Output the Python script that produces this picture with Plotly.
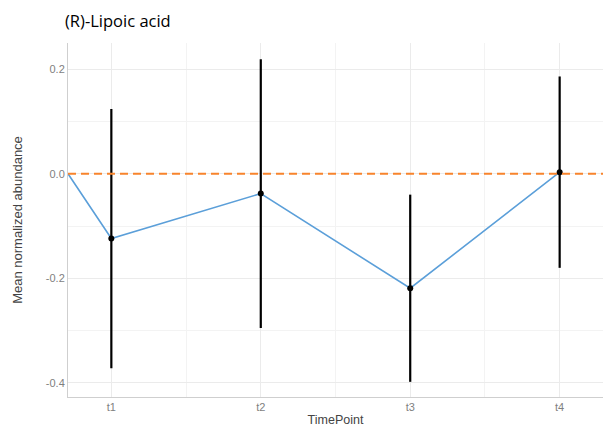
import plotly.graph_objects as go

categories = ["t1", "t2", "t3", "t4"]
means = [-0.124, -0.038, -0.219, 0.003]
errors = [0.248, 0.257, 0.179, 0.183]
baseline_value = 0.0

xpos = [1, 2, 3, 4]
x_range = [0.71, 4.29]
y_range = [-0.427, 0.25]

fig = go.Figure()

# blue line including baseline start at left edge
fig.add_trace(go.Scatter(
    x=[x_range[0]] + xpos, y=[baseline_value] + means,
    mode="lines", line=dict(color="#5b9fd9", width=1.6),
    hoverinfo="skip", showlegend=False, cliponaxis=False))

# orange dashed zero line
fig.add_hline(y=0, line=dict(color="#f8842c", width=1.9, dash="8px,5px"))

# error bars + points
fig.add_trace(go.Scatter(
    x=xpos, y=means, mode="markers",
    marker=dict(color="black", size=6),
    error_y=dict(type="data", array=errors, color="black", thickness=2.2, width=0),
    showlegend=False))

fig.update_layout(
    width=603, height=427,
    margin=dict(l=68, r=0, t=43, b=30),
    paper_bgcolor="white", plot_bgcolor="white",
    title=dict(text="(R)-Lipoic acid", x=65/603, xanchor="left", y=1 - 21/427, yanchor="middle",
               font=dict(family="Open Sans", size=16.5, color="black")),
    font=dict(family="Liberation Sans"),
)
fig.update_xaxes(
    range=x_range, tickvals=xpos, ticktext=categories, tickfont=dict(size=11, color="#7f7f7f"),
    showgrid=True, gridcolor="#ebebeb", gridwidth=1,
    minor=dict(tickvals=[1.5, 2.5, 3.5], showgrid=True, gridcolor="#f3f3f3", gridwidth=1),
    showline=True, linecolor="#cfcfcf", linewidth=1, zeroline=False, ticks="", ticklen=0,
    title=dict(text="TimePoint", font=dict(size=12.5, color="#444444"), standoff=3),
)
fig.update_yaxes(
    range=y_range, tickvals=[-0.4, -0.2, 0.0, 0.2], ticktext=["-0.4", "-0.2", "0.0", "0.2"],
    tickfont=dict(size=11, color="#7f7f7f"),
    showgrid=True, gridcolor="#ebebeb", gridwidth=1,
    minor=dict(tickvals=[-0.3, -0.1, 0.1], showgrid=True, gridcolor="#f3f3f3", gridwidth=1),
    showline=True, linecolor="#cfcfcf", linewidth=1, zeroline=False, ticks="", ticklen=0,
    title=dict(text="Mean normalized abundance", font=dict(size=13, color="#444444"), standoff=20),
)

fig.write_html("out.html")
